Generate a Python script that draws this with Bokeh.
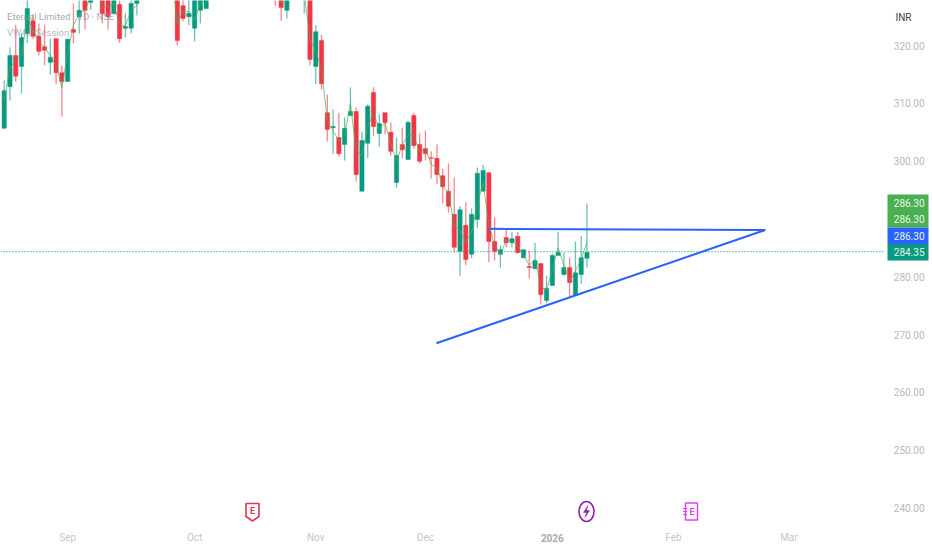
from bokeh.plotting import figure
from bokeh.embed import file_html
from bokeh.resources import INLINE
from bokeh.models import Range1d
from bokeh.core.properties import value

opens = [305.7,312.9,318.3,316.4,322.1,324.3,321.6,319.8,317.1,321.2,315.3,313.8,322.8,325.0,328.7,327.5,329,330.4,329.5,325.5,327.1,323.0,323.0,327.3,
 330,333,331,334,332,334,329.5,326.9,325.0,323.0,326.1,326.4,
 331,336,333,338,335,339,337,338,336,335,332,331,329.5,326.1,329.5,332,328.5,329.2,316.4,320.9,308.4,305.8,304.1,302.9,307.9,308.6,294.8,303.1,311.9,304.8,308.4,305.0,296.3,302.9,300.3,307.9,302.9,302.2,300.6,300.5,297.5,294.8,290.8,284.4,288.9,283.9,289.9,294.8,298.0,286.1,283.9,286.8,285.9,287.0,283.3,281.8,281.4,282.3,275.9,278.5,283.7,280.4,281.6,276.8,280.4,283.2]
highs = [314.0,319.7,323.6,322.1,328.7,325.4,323.8,323.6,321.2,321.2,316.6,321.1,327.3,328.3,329.5,329.9,332,331.3,330.4,330.4,328.3,325.6,329.0,329.5,
 333,334,334,335,335,335,330.4,328.1,328.7,329.5,329.9,329.5,
 337,338,338,339,339,340,339,339,338,336,334,332,330.4,329.9,332,333,332,329.5,323.5,321.9,311.5,309.0,308.4,307.6,312.8,309.3,305.1,309.8,312.8,308.1,308.4,306.7,304.1,305.8,307.0,308.4,304.8,305.3,301.7,302.9,298.7,299.6,297.2,292.2,292.9,291.8,298.9,299.4,298.0,290.3,285.4,288.2,287.7,287.8,284.7,284.5,285.9,282.3,280.2,284.0,287.7,284.2,283.3,286.1,287.1,292.7]
lows = [305.7,310.5,313.8,311.7,320.4,321.1,318.3,316.6,315.0,313.3,307.7,313.8,320.4,322.1,322.8,326.2,328.5,323.8,322.8,325.4,320.5,321.4,322.1,325.2,
 329,330,330,331,331,331,320.0,324.2,323.5,320.7,323.8,326.4,
 330,332,331,334,333,335,334,335,333,332,330,326.9,324.3,324.7,328.5,328.5,325.5,316.6,313.3,312.4,303.4,301.3,300.8,300.1,307.9,296.5,294.8,300.5,304.4,302.5,304.6,301.0,295.4,300.5,300.3,302.2,299.6,300.1,297.0,296.0,292.7,291.1,284.2,280.2,282.0,283.2,288.5,294.8,282.5,282.8,281.6,285.1,285.1,284.0,283.2,279.7,281.4,275.2,275.4,278.5,283.7,280.2,276.4,276.8,278.8,281.6]
closes = [312.2,318.3,314.7,321.4,326.4,321.6,319.0,319.2,318.0,315.3,313.8,321.1,322.3,326.1,326.1,328.8,331,325.5,325.0,329.5,321.2,323.3,327.3,328.7,
 332,331,333,332,334,332,320.9,324.7,325.6,328.7,329.2,328.8,
 336,333,337,335,338,337,338,336,335,332,331,329,326.6,329.2,331,329,331,317.6,322.4,313.4,305.5,306.0,301.3,305.7,308.6,297.7,303.6,309.5,306.0,306.5,306.7,301.7,301.0,302.0,306.7,302.7,300.0,301.3,300.5,297.7,295.6,292.2,285.1,291.6,283.0,290.8,297.9,298.4,286.1,284.4,284.7,285.9,286.6,284.2,284.7,281.6,282.8,276.9,278.0,283.7,284.2,281.6,279.0,280.7,283.3,284.2]
vwap = [310.6,316.2,317.4,318.4,325,322.7,320.6,319.8,318.1,316.6,312.7,318.7,323.5,325.5,326.1,328.4,330,326.8,326.6,327.3,323.4,323.5,326,327,
 331,331.7,332,332.7,333,332.7,323.8,326,325.9,324.4,327.3,328,
 334,335,336,335,336,337,336,335,334,333,332,330,327.4,328,330.5,330,329,321.2,319,315.9,307.1,305.3,303.5,304.5,310,301.8,301,306,308.3,305.5,306.7,303,300,302.9,304.5,304.5,301.5,302.2,299.4,298.9,295.7,294.5,288.8,288,286,287.6,292.5,296.3,289,285.5,283.8,286.4,286.2,285.3,283.7,282,283,278.2,277.7,281.3,285,282,279.2,281,283,286]
session = list(range(len(closes)))

price_ticks = [240, 250, 260, 270, 280, 300, 310, 320]
month_pos = [11, 33, 54, 73, 116, 136]
month_names = ["Sep", "Oct", "Nov", "Dec", "Feb", "Mar"]
year_pos, year_name = 95, "2026"
last_price = 284.35
line_flat_x, line_flat_y = [84.1, 131.9], [288.3, 288.1]
line_rise_x, line_rise_y = [74.9, 131.9], [268.5, 288.1]
tag_texts = ["286.30", "286.30", "286.30", "284.35"]
tag_colors = ["#4CAF50", "#4CAF50", "#2962FF", "#089981"]

RED, GREEN = "#F23645", "#089981"
# image pixel -> data helpers (for decorations only)
def xd(px): return (px - 3.7) / 5.77
def yd(py): return 327.8 - 0.173 * py

p = figure(width=932, height=550, output_backend="svg", toolbar_location=None,
           x_range=Range1d(xd(0), xd(932)), y_range=Range1d(yd(550), yd(0)),
           x_axis_location=None, y_axis_location=None,
           min_border_left=0, min_border_top=0, min_border_right=0, min_border_bottom=0,
           background_fill_color="white", border_fill_color="white", outline_line_color=None)
p.grid.visible = False

def txt(xs, ys, ts, color, size="10px", align="left", style="normal", alpha=1.0):
    p.text(xs, ys, text=ts, text_color=color, text_alpha=alpha, text_align=align, text_baseline="middle",
           text_font=value("Roboto"), text_font_size=value(size), text_font_style=style)

p.line([xd(0), xd(885)], [last_price, last_price], line_color=GREEN, line_dash="1 2", line_width=1.2, line_alpha=0.9)

colors = [GREEN if c >= o else RED for o, c in zip(opens, closes)]
p.segment(session, highs, session, lows, color=colors, line_width=1.3, line_alpha=0.6)
# bodies that lie wholly above the visible price range are left out of the drawing
shown = [i for i in session if min(opens[i], closes[i]) < yd(0)]
p.vbar([session[i] for i in shown], width=0.74,
       top=[max(opens[i], closes[i]) for i in shown], bottom=[min(opens[i], closes[i]) for i in shown],
       fill_color=[colors[i] for i in shown], line_color=[colors[i] for i in shown], line_width=0.5)
p.line(session, vwap, line_color="#4CAF50", line_width=1, line_alpha=0.7)

p.line(line_flat_x, line_flat_y, line_color="#2962FF", line_width=2)
p.line(line_rise_x, line_rise_y, line_color="#2962FF", line_width=2)

txt([xd(6.5)], [yd(16)], ["Eternal Limited · 1D · NSE"], "#8e8e93", "9.5px", alpha=0.8)
txt([xd(6.5)], [yd(32)], ["VWAP Session"], "#8e95a5", "9.5px", alpha=0.7)

# price scale
txt([xd(924)] * len(price_ticks), price_ticks, [f"{t}.00" for t in price_ticks], "#b8b8bc", align="right")
txt([xd(903)], [yd(17)], ["INR"], "#3c3f46", align="center")
# time scale
txt(month_pos, [yd(537)] * len(month_pos), month_names, "#c6c6ca", align="center")
txt([year_pos], [yd(537)], [year_name], "#a9a9ae", align="center", style="bold")

# price tags, stacked so they do not overlap
tag_y = [yd(194 + 8.25 + 16.5 * i) for i in range(4)]
p.rect([xd(907.5)] * 4, tag_y, width=41 / 5.77, height=16.6 * 0.173, fill_color=tag_colors, line_color=None)
txt([xd(924)] * 4, tag_y, tag_texts, "#eaf6ea", align="right")

# marker badges along the bottom
c1 = "#E0364F"
p.patch([xd(v) for v in [245.5, 258.5, 258.5, 252, 245.5]], [yd(v) for v in [503, 503, 516, 520.5, 516]],
        fill_color=None, line_color=c1, line_width=1.6)
txt([xd(252)], [yd(510.5)], ["E"], c1, "9px", align="center", style="bold")
c2 = "#8E24AA"
p.ellipse([xd(586)], [yd(511)], width=15 / 5.77, height=20 * 0.173, fill_color=None, line_color=c2, line_width=1.6)
p.patch([xd(v) for v in [587.5, 583, 586, 584.5, 589, 586]], [yd(v) for v in [505, 512, 512, 517, 510, 510]],
        fill_color=c2, line_color=c2, line_width=0.5)
c3 = "#E040FB"
p.patch([xd(v) for v in [685, 697, 697, 685]], [yd(v) for v in [502.5, 502.5, 519.5, 519.5]],
        fill_color=None, line_color=c3, line_width=1.5)
for yy in (508, 511, 514):
    p.line([xd(682.5), xd(686.5)], [yd(yy), yd(yy)], line_color=c3, line_width=1)
txt([xd(691.5)], [yd(511)], ["E"], c3, "9px", align="center", style="bold")

open("out.html", "w").write(file_html(p, INLINE))
